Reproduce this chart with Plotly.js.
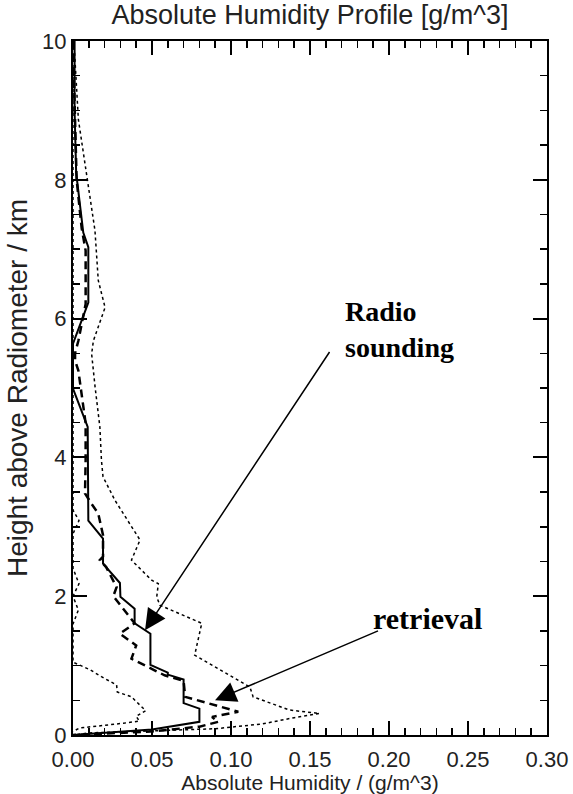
<!DOCTYPE html>
<html>
<head>
<meta charset="utf-8">
<script src="https://cdn.plot.ly/plotly-3.0.1.min.js"></script>
<style>html,body{margin:0;padding:0;background:#fff;}#chart{width:573px;height:794px;}</style>
</head>
<body>
<div id="chart"></div>
<script>
// Radio sounding (solid)
var sondeX = [0.001,0.001,0.002,0.0065,0.0097,0.0097,0.0,0.0,0.0093,0.0097,0.019,0.019,0.0297,0.030,0.039,0.039,0.049,0.049,0.060,0.060,0.070,0.070,0.080,0.080,0.05,0.02,0.0];
var sondeY = [10,9.0,8.1,7.24,7.03,6.23,5.64,4.99,4.44,3.09,2.83,2.47,2.19,1.99,1.82,1.61,1.46,1.01,0.90,0.87,0.80,0.46,0.38,0.19,0.08,0.03,0.0];
// Retrieval (dashed)
var retrX = [0.0,0.001,0.0023,0.0055,0.008,0.008,0.0034,0.0013,0.0013,0.0034,0.0065,0.008,0.008,0.0076,0.0118,0.016,0.019,0.019,0.017,0.021,0.0276,0.0255,0.039,0.0297,0.040,0.037,0.051,0.058,0.070,0.071,0.1046,0.088,0.092,0.08,0.049,0.02,0.0];
var retrY = [10,9.0,8.0,7.3,6.98,6.21,5.68,5.5,5.4,5.25,4.77,4.49,3.96,3.48,3.33,3.19,2.88,2.57,2.52,2.42,2.13,2.0,1.61,1.46,1.29,1.10,0.94,0.86,0.78,0.55,0.335,0.26,0.19,0.12,0.05,0.02,0.0];
// Retrieval error bounds (dotted)
var upperX = [0.0,0.001,0.0034,0.009,0.0139,0.016,0.0203,0.0129,0.0118,0.014,0.017,0.018,0.019,0.0266,0.0424,0.037,0.0498,0.054,0.053,0.055,0.0815,0.077,0.112,0.114,0.137,0.156,0.14,0.12,0.09,0.05,0.01,0.0];
var upperY = [10,9.83,8.87,8.0,7.27,6.55,6.16,5.68,5.49,5.01,4.44,3.96,3.72,3.38,2.81,2.52,2.23,2.18,1.99,1.87,1.61,1.15,0.69,0.55,0.36,0.31,0.25,0.16,0.09,0.06,0.03,0.0];
var lowerX = [0.0,0.0,0.0,0.0038,0.0,0.0,0.0038,0.0,0.0034,0.0,0.0,0.0108,0.018,0.0276,0.028,0.037,0.046,0.040,0.042,0.032,0.004,0.0];
var lowerY = [10,3.3,3.24,3.09,2.9,2.4,2.18,2.0,1.8,1.6,1.05,0.94,0.84,0.72,0.62,0.55,0.35,0.27,0.2,0.17,0.1,0.05];

var xTicks = [0.00,0.05,0.10,0.15,0.20,0.25,0.30];
var xTickText = ["0.00","0.05","0.10","0.15","0.20","0.25","0.30"];
var yTicks = [0,2,4,6,8,10];
var yTickText = ["0","2","4","6","8","10"];

var traces = [
  {x: upperX, y: upperY, mode:'lines', line:{color:'#000', width:1.5, dash:'dot'}, hoverinfo:'skip'},
  {x: lowerX, y: lowerY, mode:'lines', line:{color:'#000', width:1.5, dash:'dot'}, hoverinfo:'skip'},
  {x: retrX, y: retrY, mode:'lines', line:{color:'#000', width:2.5, dash:'8px,5px'}, hoverinfo:'skip'},
  {x: sondeX, y: sondeY, mode:'lines', line:{color:'#000', width:2}, hoverinfo:'skip'}
];

var fontSans = 'Liberation Sans, Arial, sans-serif';
var axisCommon = {
  showline:true, linecolor:'#000', linewidth:2, mirror:'ticks',
  ticks:'inside', ticklen:14, tickwidth:2, tickcolor:'#000',
  showgrid:false, zeroline:false,
  tickfont:{family:fontSans, size:22, color:'#222'}
};

var layout = {
  width:573, height:794,
  margin:{l:73, r:26, t:41, b:59},
  paper_bgcolor:'#fff', plot_bgcolor:'#fff',
  showlegend:false,
  title:{text:'Absolute Humidity Profile [g/m^3]', x:0.541, xanchor:'center', y:0.982, yanchor:'middle',
         font:{family:fontSans, size:27, color:'#222'}},
  xaxis: Object.assign({}, axisCommon, {
    range:[0,0.3], tickmode:'array', tickvals:xTicks, ticktext:xTickText, ticklabelstandoff:4,
    minor:{tickmode:'linear', tick0:0, dtick:0.01, ticks:'inside', ticklen:7, tickwidth:1.5, tickcolor:'#000', showgrid:false},
    title:{text:'Absolute Humidity / (g/m^3)', standoff:0, font:{family:fontSans, size:21, color:'#222'}}
  }),
  yaxis: Object.assign({}, axisCommon, {
    range:[0,10], tickmode:'array', tickvals:yTicks, ticktext:yTickText,
    minor:{tickmode:'linear', tick0:0, dtick:0.5, ticks:'inside', ticklen:7, tickwidth:1.5, tickcolor:'#000', showgrid:false},
    title:{text:'Height above Radiometer / km', standoff:6, font:{family:fontSans, size:28, color:'#222'}}
  }),
  annotations:[
    {x:0.0456, y:1.51, ax:0.163, ay:5.54, xref:'x', yref:'y', axref:'x', ayref:'y',
     showarrow:true, arrowhead:2, arrowsize:2.8, arrowwidth:1.5, arrowcolor:'#000', text:''},
    {x:0.0899, y:0.50, ax:0.194, ay:1.51, xref:'x', yref:'y', axref:'x', ayref:'y',
     showarrow:true, arrowhead:2, arrowsize:2.8, arrowwidth:1.5, arrowcolor:'#000', text:''},
    {x:0.1709, y:6.35, xref:'x', yref:'y', xanchor:'left', yanchor:'top', showarrow:false, align:'left',
     text:'<b>Radio<br>sounding</b>', font:{family:'Liberation Serif, Times New Roman, serif', size:28, color:'#000'}},
    {x:0.1885, y:1.68, xref:'x', yref:'y', xanchor:'left', yanchor:'middle', showarrow:false,
     text:'<b>retrieval</b>', font:{family:'Liberation Serif, Times New Roman, serif', size:30, color:'#000'}}
  ]
};

Plotly.newPlot('chart', traces, layout, {displayModeBar:false, staticPlot:true});
</script>
</body>
</html>
